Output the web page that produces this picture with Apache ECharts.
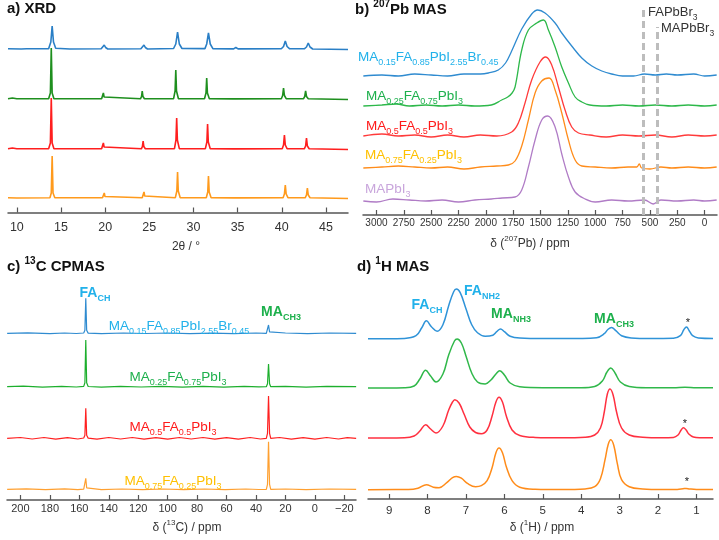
<!DOCTYPE html>
<html><head><meta charset="utf-8">
<script src="https://cdn.jsdelivr.net/npm/echarts@6/dist/echarts.min.js"></script>
<style>html,body{margin:0;padding:0;background:#fff}#c{width:719px;height:540px}</style>
</head><body><div id="c"></div><script>
// ---------------- DATA ----------------
// a) XRD: [2theta, intensity]
const xrdTicks = [10,15,20,25,30,35,40,45];
const xrdBlue = [[9,0.3],[10.5,0],[11.1,0.2],[11.3,1.5],[11.5,0.2],[13.6,0.3],[13.85,7],[14.0,23],[14.15,7],[14.4,0.8],[16,0],[19.55,0.2],[19.75,1.5],[19.9,4],[20.05,1.5],[20.3,0],[24.05,0.2],[24.25,1.5],[24.4,4],[24.55,1.5],[24.8,0],[27.75,0.5],[28.0,5],[28.2,17],[28.4,5],[28.7,0.5],[31.3,0.4],[31.5,5],[31.7,16],[31.9,5],[32.2,0.4],[34.55,0.1],[34.8,1.5],[35.05,0.1],[39.95,0.3],[40.2,2.5],[40.4,8],[40.6,2.5],[40.9,0.2],[42.55,0.2],[42.8,2],[43.0,6],[43.2,2],[43.5,0],[47.5,-0.5]];
const xrdGreen = [[9,0.3],[9.5,1],[10,0.2],[13.6,0.2],[13.8,6],[13.9,51],[14.0,6],[14.2,0.3],[19.6,0.2],[19.72,2],[19.8,6],[19.88,2],[20.05,0.2],[24.0,0.2],[24.12,2.5],[24.2,8],[24.28,2.5],[24.45,0.2],[27.75,0.3],[27.92,8],[28.0,29],[28.08,8],[28.3,0.3],[31.25,0.3],[31.42,6],[31.5,21],[31.58,6],[31.8,0.3],[34.45,0.1],[34.6,2],[34.75,0.1],[39.95,0.3],[40.1,3.5],[40.2,11],[40.3,3.5],[40.5,0.3],[42.45,0.2],[42.6,2.5],[42.7,8],[42.8,2.5],[43.0,0.2],[47.5,-0.5]];
const xrdRed = [[9,0.3],[9.5,1],[10,0.2],[13.6,0.2],[13.8,6],[13.9,51],[14.0,6],[14.2,0.3],[19.6,0.2],[19.72,2],[19.8,6],[19.88,2],[20.05,0.2],[24.1,0.2],[24.22,2.5],[24.3,8],[24.38,2.5],[24.55,0.2],[27.85,0.3],[28.02,9],[28.1,31],[28.18,9],[28.4,0.3],[31.35,0.3],[31.52,7],[31.6,25],[31.68,7],[31.9,0.3],[34.5,0.1],[34.7,2],[34.9,0.1],[40.05,0.3],[40.2,4],[40.3,14],[40.4,4],[40.6,0.3],[42.55,0.2],[42.7,3],[42.8,11],[42.9,3],[43.1,0.2],[47.5,-0.5]];
const xrdOrange = [[9,0.3],[10,0],[13.75,0.2],[13.9,5],[14.0,42],[14.1,5],[14.3,0.3],[19.7,0.2],[19.82,1.5],[19.9,5],[19.98,1.5],[20.15,0.2],[24.2,0.2],[24.32,2],[24.4,6],[24.48,2],[24.65,0.2],[27.95,0.3],[28.12,7],[28.2,26],[28.28,7],[28.5,0.3],[31.45,0.3],[31.62,6],[31.7,22],[31.78,6],[32.0,0.3],[34.6,0.1],[34.8,2],[35.0,0.1],[40.15,0.3],[40.3,4],[40.4,13],[40.5,4],[40.7,0.3],[42.65,0.2],[42.8,3],[42.9,10],[43.0,3],[43.2,0.2],[47.5,-0.5]];

// b) 207Pb MAS: [ppm, intensity]
const pbTicks = [3000,2750,2500,2250,2000,1750,1500,1250,1000,750,500,250,0];
const pbRefLines = [558, 430];
const pbBlue = [[3120,-1],[2950,0],[2800,-1],[2650,1],[2500,0],[2350,-1],[2200,1],[2050,1],[1977,2],[1886,5],[1820,12],[1764,24],[1672,46],[1581,61],[1526,65],[1459,62],[1367,52],[1306,42],[1215,29],[1123,17],[1031,9],[940,4],[850,1],[750,-1],[650,-1],[550,1],[450,0],[350,1],[250,0],[100,1],[0,-1],[-110,0]];
const pbGreen = [[3120,0],[2950,1],[2820,2],[2700,0],[2550,1],[2400,0],[2250,1],[2100,0],[1950,1],[1855,6],[1800,9],[1760,13],[1733,19],[1672,56],[1611,76],[1535,83],[1474,86],[1428,76],[1367,59],[1306,39],[1245,23],[1184,9],[1123,4],[1050,1],[900,0],[750,1],[600,0],[450,1],[300,0],[150,1],[0,0],[-110,1]];
const pbRed = [[3120,0],[2950,2],[2800,0],[2650,1],[2500,-1],[2350,1],[2200,-1],[2050,1],[1900,0],[1764,4],[1703,13],[1642,33],[1581,56],[1505,74],[1453,79],[1398,71],[1337,49],[1276,26],[1215,9],[1153,3],[1050,1],[900,-1],[750,1],[600,0],[450,1],[300,-1],[150,1],[0,0],[-110,1]];
const pbOrange = [[3120,0],[2950,1],[2800,2],[2650,1],[2500,0],[2350,1],[2200,-1],[2050,1],[1900,2],[1794,3],[1733,7],[1672,22],[1611,48],[1550,75],[1489,87],[1422,90],[1367,78],[1306,55],[1245,28],[1184,8],[1123,2],[1000,1],[850,0],[700,1],[620,1],[598,4],[575,0],[500,-1],[400,1],[300,0],[150,1],[0,0],[-110,1]];
const pbPurple = [[3120,0],[3000,-1],[2850,2],[2700,1],[2550,0],[2400,1],[2250,-1],[2100,1],[1950,2],[1850,3],[1733,4],[1672,11],[1611,34],[1550,61],[1489,81],[1434,85],[1367,74],[1306,47],[1245,24],[1184,9],[1092,2],[1000,-1],[850,1],[700,0],[550,1],[470,-3],[400,1],[250,0],[100,1],[0,0],[-110,1]];

// c) 13C CPMAS: [ppm, intensity]
const cTicks = [200,180,160,140,120,100,80,60,40,20,0,-20];
const cBlue = [[209,0],[195,0.4],[180,-0.3],[170,0.3],[162,-0.2],[157,0.3],[156.2,3],[155.6,35],[155.0,3],[154,0.2],[145,-0.3],[130,0.3],[115,-0.2],[100,0.3],[85,-0.3],[70,0.2],[55,-0.3],[40,0.3],[33,0],[32.2,1.5],[31.5,8.3],[30.8,1.5],[30,0],[20,0.3],[5,-0.3],[-10,0.3],[-28,0]];
const cGreen = [[209,0],[198,0.5],[185,-0.4],[172,0.4],[162,-0.3],[157,0.3],[156.2,4],[155.6,46.7],[155.0,4],[154,0.2],[145,-0.4],[132,0.4],[118,-0.3],[104,0.4],[90,-0.4],[76,0.3],[62,-0.4],[48,0.4],[38,-0.2],[33,0],[32.2,3],[31.5,22.7],[30.8,3],[30,0],[20,0.4],[6,-0.4],[-8,0.4],[-28,0]];
const cRed = [[209,0],[200,0.8],[192,-0.7],[184,0.8],[176,-0.8],[168,0.7],[161,-0.7],[157,0.3],[156.2,3],[155.6,30],[155.0,3],[154,0.2],[148,-0.8],[140,0.8],[132,-0.7],[124,0.8],[116,-0.8],[108,0.7],[100,-0.8],[92,0.8],[84,-0.7],[76,0.8],[68,-0.8],[60,0.7],[52,-0.8],[44,0.8],[37,-0.7],[33,0],[32.2,5],[31.5,42.3],[30.8,5],[30,0],[24,0.8],[16,-0.8],[8,0.7],[0,-0.8],[-8,0.8],[-16,-0.7],[-22,0.7],[-28,0]];
const cOrange = [[209,0],[196,0.4],[183,-0.3],[170,0.4],[161,-0.3],[157,0.2],[156.2,1.5],[155.6,11],[155.0,1.5],[154,0.2],[145,-0.3],[131,0.3],[117,-0.3],[103,0.3],[89,-0.3],[75,0.3],[61,-0.3],[47,0.3],[38,-0.2],[33,0],[32.2,5],[31.5,47.6],[30.8,5],[30,0],[20,0.3],[6,-0.3],[-10,0.3],[-28,0]];

// d) 1H MAS: [ppm, intensity]
const hTicks = [9,8,7,6,5,4,3,2,1];
const hBlue = [[9.55,0],[8.6,0.3],[8.3,3],[8.15,11],[8.03,18],[7.9,12],[7.75,7.5],[7.6,14],[7.45,33],[7.32,47],[7.25,49.7],[7.15,46],[7.0,30],[6.85,14],[6.7,6],[6.5,2.5],[6.3,3.5],[6.2,7],[6.1,9.7],[6.0,7],[5.85,2.5],[5.6,0.7],[5.0,0.2],[4.0,0.3],[3.6,1],[3.4,5],[3.3,9.5],[3.21,11.3],[3.1,8],[2.95,3],[2.7,0.8],[2.2,0.2],[1.6,0.4],[1.42,3],[1.33,9],[1.26,11.7],[1.19,8],[1.1,3],[0.95,0.8],[0.57,0.3]];
const hGreen = [[9.55,0],[8.6,0.3],[8.35,2],[8.2,9],[8.05,17.7],[7.92,12],[7.78,6],[7.6,14],[7.45,33],[7.3,47],[7.23,49],[7.12,45],[7.0,32],[6.85,15],[6.7,6],[6.5,4],[6.35,8],[6.22,14],[6.12,17.3],[6.0,13],[5.85,5],[5.6,1.2],[5.0,0.3],[4.0,0.3],[3.65,1.5],[3.45,7],[3.33,16],[3.23,20],[3.12,15],[2.98,6],[2.75,1.5],[2.3,0.3],[1.6,0.3],[1.3,0.8],[1.0,0.3],[0.57,0.3]];
const hRed = [[9.55,0],[8.6,0.3],[8.35,2],[8.2,7],[8.05,13.3],[7.92,9],[7.78,5],[7.6,12],[7.45,28],[7.35,36],[7.29,38.3],[7.18,35],[7.05,24],[6.9,11],[6.75,5.5],[6.6,4.3],[6.45,8],[6.32,22],[6.22,36],[6.14,40.7],[6.05,36],[5.95,22],[5.8,8],[5.6,2.5],[5.2,0.6],[4.5,0.3],[3.9,0.8],[3.65,3],[3.5,10],[3.4,26],[3.32,44],[3.25,49],[3.17,43],[3.08,26],[2.95,10],[2.75,3],[2.4,0.8],[1.9,0.3],[1.6,0.6],[1.48,3],[1.4,8],[1.34,10.3],[1.27,8],[1.2,4],[1.08,1],[0.9,0.3],[0.57,0.2]];
const hOrange = [[9.55,0],[8.5,0.2],[8.25,1.5],[8.03,5],[7.85,2.5],[7.7,2],[7.5,7],[7.35,12],[7.25,13.3],[7.12,11.5],[6.95,6],[6.75,3],[6.6,4],[6.45,9],[6.32,22],[6.22,37],[6.14,41.7],[6.05,37],[5.95,23],[5.8,9],[5.6,2.5],[5.2,0.5],[4.5,0.2],[3.9,0.8],[3.65,3],[3.5,11],[3.38,30],[3.3,45],[3.23,50],[3.15,44],[3.06,26],[2.95,10],[2.75,3],[2.4,0.8],[1.9,0.3],[1.5,0.3],[1.35,0.9],[1.27,1.3],[1.18,0.8],[1.0,0.3],[0.57,0.2]];

// ---------------- LAYOUT / STYLE ----------------
const FONT = '"Liberation Sans", Arial, sans-serif';
const AXC = '#555';
const grids = [
  {left: 8, top: 15, width: 340, height: 197.5},
  {left: 363, top: 5, width: 354, height: 210},
  {left: 7, top: 285, width: 349, height: 215},
  {left: 368, top: 285, width: 345, height: 214}
];
function xAx(i, min, max, ticks, inverse, fs, margin, fmt) {
  return {
    type: 'value', gridIndex: i, min: min, max: max, inverse: inverse,
    axisLine: {show: true, onZero: false, lineStyle: {color: AXC, width: 1.5}},
    axisTick: {show: true, inside: true, length: 5, customValues: ticks, lineStyle: {color: AXC, width: 1.2}},
    axisLabel: {show: true, customValues: ticks, color: '#333', fontSize: fs, fontFamily: FONT, margin: margin,
      hideOverlap: false, formatter: fmt || (v => String(v))},
    splitLine: {show: false}
  };
}
const xAxes = [
  xAx(0, 9, 47.5, xrdTicks, false, 12.5, 9),
  xAx(1, -113, 3123, pbTicks, true, 10, 3),
  xAx(2, -27.9, 209.1, cTicks, true, 11, 3.5, v => v < 0 ? '\u2212' + Math.abs(v) : String(v)),
  xAx(3, 0.57, 9.55, hTicks, true, 11.5, 5.5)
];
const yAxes = grids.map((g, i) => ({type: 'value', gridIndex: i, min: 0, max: g.height, show: false}));

const series = [];
function addLine(i, arr, offset, color, smooth, width) {
  series.push({
    type: 'line', xAxisIndex: i, yAxisIndex: i, showSymbol: false, symbol: 'none',
    smooth: smooth, lineStyle: {color: color, width: width || 1.5}, itemStyle: {color: color},
    data: arr.map(p => [p[0], p[1] + offset]), silent: true, z: 3
  });
}
// a
addLine(0, xrdBlue, 163.5, '#2a7fc6', false, 1.6);
addLine(0, xrdGreen, 113.5, '#1e8f1e', false, 1.6);
addLine(0, xrdRed, 63.5, '#ff1e1e', false, 1.6);
addLine(0, xrdOrange, 14.5, '#ff9a1c', false, 1.6);
// b
addLine(1, pbBlue, 140, '#2f8bd0', 0.4, 1.3);
addLine(1, pbGreen, 109, '#2db84a', 0.4, 1.3);
addLine(1, pbRed, 79, '#ff3b3b', 0.4, 1.3);
addLine(1, pbOrange, 47, '#ff8c1a', 0.4, 1.3);
addLine(1, pbPurple, 14, '#b07cc6', 0.4, 1.3);
series.push({
  type: 'line', xAxisIndex: 1, yAxisIndex: 1, data: [], silent: true,
  markLine: {symbol: 'none', silent: true, label: {show: false},
    lineStyle: {color: '#bdbdbd', width: 3, type: [7, 4]},
    data: [
      [{coord: [pbRefLines[0], 0]}, {coord: [pbRefLines[0], 205]}],
      [{coord: [pbRefLines[1], 0]}, {coord: [pbRefLines[1], 188]}]
    ]}
});
// c
addLine(2, cBlue, 166.7, '#2f8bd0', false, 1.2);
addLine(2, cGreen, 113.3, '#1daf2d', false, 1.2);
addLine(2, cRed, 61.7, '#ff2020', false, 1.2);
addLine(2, cOrange, 10.7, '#ffa030', false, 1.2);
// d
addLine(3, hBlue, 160.3, '#2f93d8', 0.4, 1.5);
addLine(3, hGreen, 111, '#30b84a', 0.4, 1.5);
addLine(3, hRed, 61, '#ff3040', 0.4, 1.5);
addLine(3, hOrange, 9.3, '#ff8c1a', 0.4, 1.5);

// ---------------- TEXT ----------------
const CYAN = '#21b1ea', GRN = '#1db04c', RED = '#ff1a1a', YEL = '#ffc000', PUR = '#c9a6dc';
function richStyle(size, sub, bold) {
  const w = bold ? 'bold' : 'normal';
  return {
    n: {fontSize: size, fontFamily: FONT, fontWeight: w, lineHeight: size + 7},
    s: {fontSize: sub, fontFamily: FONT, fontWeight: w, lineHeight: size + 7, verticalAlign: 'bottom'},
    u: {fontSize: sub, fontFamily: FONT, fontWeight: w, lineHeight: size + 7, verticalAlign: 'top'}
  };
}
function T(x, y, text, color, size, sub, bold, align) {
  return {type: 'text', x: x, y: y, z: 100, silent: true,
    style: {text: text, fill: color, align: align || 'left', verticalAlign: 'middle',
      rich: richStyle(size, sub, bold)}};
}
const graphics = [
  T(7, 9, '{n|a) XRD}', '#111', 15, 10, true),
  T(355, 10, '{n|b) }{u|207}{n|Pb MAS}', '#111', 15, 10, true),
  T(7, 267, '{n|c) }{u|13}{n|C CPMAS}', '#111', 15, 10, true),
  T(357, 267, '{n|d) }{u|1}{n|H MAS}', '#111', 15, 10, true),
  // axis names
  T(186, 247, '{n|2θ / °}', '#333', 12, 8, false, 'center'),
  T(530, 244, '{n|δ (}{u|207}{n|Pb) / ppm}', '#333', 12, 8, false, 'center'),
  T(187, 528, '{n|δ (}{u|13}{n|C) / ppm}', '#333', 12, 8, false, 'center'),
  T(542, 528, '{n|δ (}{u|1}{n|H) / ppm}', '#333', 12, 8, false, 'center'),
  // b labels
  T(358, 57, '{n|MA}{s|0.15}{n|FA}{s|0.85}{n|PbI}{s|2.55}{n|Br}{s|0.45}', CYAN, 13.5, 9),
  T(366, 96, '{n|MA}{s|0.25}{n|FA}{s|0.75}{n|PbI}{s|3}', GRN, 13.5, 9),
  T(366, 126, '{n|MA}{s|0.5}{n|FA}{s|0.5}{n|PbI}{s|3}', RED, 13.5, 9),
  T(365, 155, '{n|MA}{s|0.75}{n|FA}{s|0.25}{n|PbI}{s|3}', YEL, 13.5, 9),
  T(365, 189, '{n|MAPbI}{s|3}', PUR, 13.5, 9),
  T(648, 12, '{n|FAPbBr}{s|3}', '#333', 13, 8.5),
  T(661, 28, '{n|MAPbBr}{s|3}', '#333', 13, 8.5),
  // c labels
  T(95, 293, '{n|FA}{s|CH}', CYAN, 14, 9, true, 'center'),
  T(281, 312, '{n|MA}{s|CH3}', GRN, 14, 9, true, 'center'),
  T(179, 326, '{n|MA}{s|0.15}{n|FA}{s|0.85}{n|PbI}{s|2.55}{n|Br}{s|0.45}', CYAN, 13.5, 9, false, 'center'),
  T(178, 377, '{n|MA}{s|0.25}{n|FA}{s|0.75}{n|PbI}{s|3}', GRN, 13.5, 9, false, 'center'),
  T(173, 427, '{n|MA}{s|0.5}{n|FA}{s|0.5}{n|PbI}{s|3}', RED, 13.5, 9, false, 'center'),
  T(173, 481, '{n|MA}{s|0.75}{n|FA}{s|0.25}{n|PbI}{s|3}', YEL, 13.5, 9, false, 'center'),
  // d labels
  T(427, 305, '{n|FA}{s|CH}', CYAN, 14, 9, true, 'center'),
  T(482, 291, '{n|FA}{s|NH2}', CYAN, 14, 9, true, 'center'),
  T(511, 314, '{n|MA}{s|NH3}', GRN, 14, 9, true, 'center'),
  T(614, 319, '{n|MA}{s|CH3}', GRN, 14, 9, true, 'center'),
  T(688, 323, '{n|*}', '#222', 11, 8, false, 'center'),
  T(685, 424, '{n|*}', '#222', 11, 8, false, 'center'),
  T(687, 482, '{n|*}', '#222', 11, 8, false, 'center')
];

const chart = echarts.init(document.getElementById('c'), null, {renderer: 'canvas'});
chart.setOption({
  animation: false,
  backgroundColor: '#fff',
  grid: grids.map(g => Object.assign({containLabel: false}, g)),
  xAxis: xAxes,
  yAxis: yAxes,
  series: series,
  graphic: graphics
});
</script></body></html>
